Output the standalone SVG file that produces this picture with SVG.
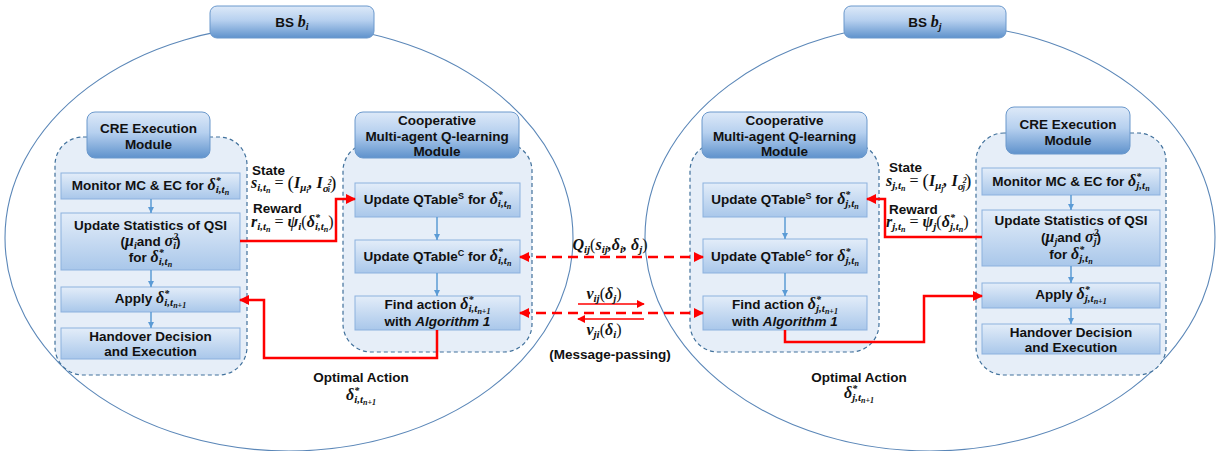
<svg xmlns="http://www.w3.org/2000/svg" width="1217" height="451" viewBox="0 0 1217 451">
<defs>
<linearGradient id="gBox" x1="0" y1="0" x2="0" y2="1"><stop offset="0" stop-color="#e3edf9"/><stop offset="1" stop-color="#a9c7ea"/></linearGradient>
<linearGradient id="gHead" x1="0" y1="0" x2="0" y2="1"><stop offset="0" stop-color="#dde9f8"/><stop offset="0.45" stop-color="#b6d0ef"/><stop offset="1" stop-color="#5f92cc"/></linearGradient>
<marker id="aBlue" viewBox="0 0 10 10" refX="10" refY="5" markerWidth="7" markerHeight="6" markerUnits="userSpaceOnUse" orient="auto"><path d="M0,0 L10,5 L0,10 z" fill="#5b9bd5"/></marker>
<marker id="aRed" viewBox="0 0 10 10" refX="9" refY="5" markerWidth="10" markerHeight="10" markerUnits="userSpaceOnUse" orient="auto-start-reverse"><path d="M0,0 L10,5 L0,10 z" fill="#ff0000"/></marker>
<marker id="aRedS" viewBox="0 0 10 10" refX="9" refY="5" markerWidth="8" markerHeight="8" markerUnits="userSpaceOnUse" orient="auto"><path d="M0,0 L10,5 L0,10 z" fill="#ff0000"/></marker>
</defs>
<style>
.ell{fill:none;stroke:#5b87b8;stroke-width:1.1}
.cont{fill:#e6eef8;stroke:#41719c;stroke-width:1.2;stroke-dasharray:4 3}
.head{fill:url(#gHead);stroke:#6a98cc;stroke-width:1}
.box{fill:url(#gBox);stroke:#8cb1de;stroke-width:1}
.t{font-family:"Liberation Sans",Arial,sans-serif;font-weight:bold;font-size:13.5px;fill:#111;text-anchor:middle}
.m{font-family:"Liberation Serif","Times New Roman",serif;font-style:italic;font-weight:bold;font-size:16px;fill:#111}
.n{font-family:"Liberation Serif","Times New Roman",serif;font-style:normal;font-weight:normal}
.bl{fill:none;stroke:#5b9bd5;stroke-width:1.5;marker-end:url(#aBlue)}
.rd{fill:none;stroke:#ff0000;stroke-width:2.5;marker-end:url(#aRed)}
.rdd{fill:none;stroke:#ff0000;stroke-width:2.5;stroke-dasharray:10 6;marker-start:url(#aRed);marker-end:url(#aRed)}
.rs{fill:none;stroke:#ff0000;stroke-width:1.3;marker-end:url(#aRedS)}
</style>
<rect width="1217" height="451" fill="#ffffff"/>

<g id="bs_i">
<ellipse class="ell" cx="289" cy="238" rx="284" ry="213"/>
<rect class="head" x="210" y="6" width="164" height="32" rx="7"/>
<text class="t" x="292" y="27">BS <tspan class="m">b</tspan><tspan class="m" style="font-size:10px" dy="3">i</tspan></text>
</g>
<g id="bs_j">
<ellipse class="ell" cx="930" cy="237" rx="285" ry="214"/>
<rect class="head" x="844" y="6" width="162" height="32" rx="7"/>
<text class="t" x="925" y="27">BS <tspan class="m">b</tspan><tspan class="m" style="font-size:10px" dy="3">j</tspan></text>
</g>

<g id="cre_i">
<rect class="cont" x="55" y="137" width="192" height="238" rx="28"/>
<rect class="head" x="87" y="112" width="123" height="46" rx="8"/>
<text class="t" x="148.5" y="133">CRE Execution</text>
<text class="t" x="148.5" y="149">Module</text>
</g>
<g id="monitor_i">
<rect class="box" x="61" y="173" width="179" height="26"/>
<text class="t" x="150.5" y="190">Monitor MC &amp; EC for <tspan class="m">δ</tspan><tspan class="m" style="font-size:10px" dy="-6">*</tspan><tspan class="m" style="font-size:11px" dx="-5" dy="9">i,t</tspan><tspan class="m" style="font-size:8px" dy="2">n</tspan></text>
</g>
<g id="stats_i">
<rect class="box" x="61" y="213" width="179" height="57"/>
<text class="t" x="150.5" y="230">Update Statistics of QSI</text>
<text class="t" x="150.5" y="246">(<tspan class="m">μ</tspan><tspan class="m" style="font-size:10px" dy="3">i</tspan><tspan dy="-3">and </tspan><tspan class="m">σ</tspan><tspan class="m" style="font-size:10px" dy="-6">2</tspan><tspan class="m" style="font-size:10px" dx="-5" dy="9">i</tspan><tspan dy="-3">)</tspan></text>
<text class="t" x="150.5" y="262">for <tspan class="m">δ</tspan><tspan class="m" style="font-size:10px" dy="-6">*</tspan><tspan class="m" style="font-size:11px" dx="-5" dy="9">i,t</tspan><tspan class="m" style="font-size:8px" dy="2">n</tspan></text>
</g>
<g id="apply_i">
<rect class="box" x="61" y="287" width="179" height="25"/>
<text class="t" x="150.5" y="303">Apply <tspan class="m">δ</tspan><tspan class="m" style="font-size:10px" dy="-6">*</tspan><tspan class="m" style="font-size:11px" dx="-5" dy="9">i,t</tspan><tspan class="m" style="font-size:8px" dy="2">n+1</tspan></text>
</g>
<g id="handover_i">
<rect class="box" x="61" y="328" width="179" height="31"/>
<text class="t" x="150.5" y="341">Handover Decision</text>
<text class="t" x="150.5" y="356">and Execution</text>
</g>

<g id="coop_i">
<rect class="cont" x="343" y="143" width="189" height="209" rx="28"/>
<rect class="head" x="355" y="112" width="164" height="46" rx="8"/>
<text class="t" x="437" y="125">Cooperative</text>
<text class="t" x="437" y="141">Multi-agent Q-learning</text>
<text class="t" x="437" y="156">Module</text>
</g>
<g id="qs_i">
<rect class="box" x="355" y="183" width="165" height="34"/>
<text class="t" x="437.5" y="204">Update QTable<tspan style="font-size:9px" dy="-5">S</tspan><tspan dy="5"> for </tspan><tspan class="m">δ</tspan><tspan class="m" style="font-size:10px" dy="-6">*</tspan><tspan class="m" style="font-size:11px" dx="-5" dy="9">i,t</tspan><tspan class="m" style="font-size:8px" dy="2">n</tspan></text>
</g>
<g id="qc_i">
<rect class="box" x="355" y="240" width="165" height="33"/>
<text class="t" x="437.5" y="261">Update QTable<tspan style="font-size:9px" dy="-5">C</tspan><tspan dy="5"> for </tspan><tspan class="m">δ</tspan><tspan class="m" style="font-size:10px" dy="-6">*</tspan><tspan class="m" style="font-size:11px" dx="-5" dy="9">i,t</tspan><tspan class="m" style="font-size:8px" dy="2">n</tspan></text>
</g>
<g id="find_i">
<rect class="box" x="355" y="296" width="165" height="34"/>
<text class="t" x="437.5" y="309">Find action <tspan class="m">δ</tspan><tspan class="m" style="font-size:10px" dy="-6">*</tspan><tspan class="m" style="font-size:11px" dx="-5" dy="9">i,t</tspan><tspan class="m" style="font-size:8px" dy="2">n+1</tspan></text>
<text class="t" x="437.5" y="326">with <tspan font-style="italic">Algorithm 1</tspan></text>
</g>

<g id="coop_j">
<rect class="cont" x="690" y="143" width="189" height="209" rx="28"/>
<rect class="head" x="702" y="112" width="165" height="46" rx="8"/>
<text class="t" x="784.5" y="125">Cooperative</text>
<text class="t" x="784.5" y="141">Multi-agent Q-learning</text>
<text class="t" x="784.5" y="156">Module</text>
</g>
<g id="qs_j">
<rect class="box" x="703" y="183" width="164" height="34"/>
<text class="t" x="785" y="204">Update QTable<tspan style="font-size:9px" dy="-5">S</tspan><tspan dy="5"> for </tspan><tspan class="m">δ</tspan><tspan class="m" style="font-size:10px" dy="-6">*</tspan><tspan class="m" style="font-size:11px" dx="-5" dy="9">j,t</tspan><tspan class="m" style="font-size:8px" dy="2">n</tspan></text>
</g>
<g id="qc_j">
<rect class="box" x="703" y="239" width="164" height="34"/>
<text class="t" x="785" y="261">Update QTable<tspan style="font-size:9px" dy="-5">C</tspan><tspan dy="5"> for </tspan><tspan class="m">δ</tspan><tspan class="m" style="font-size:10px" dy="-6">*</tspan><tspan class="m" style="font-size:11px" dx="-5" dy="9">j,t</tspan><tspan class="m" style="font-size:8px" dy="2">n</tspan></text>
</g>
<g id="find_j">
<rect class="box" x="703" y="296" width="164" height="34"/>
<text class="t" x="785" y="309">Find action <tspan class="m">δ</tspan><tspan class="m" style="font-size:10px" dy="-6">*</tspan><tspan class="m" style="font-size:11px" dx="-5" dy="9">j,t</tspan><tspan class="m" style="font-size:8px" dy="2">n+1</tspan></text>
<text class="t" x="785" y="326">with <tspan font-style="italic">Algorithm 1</tspan></text>
</g>

<g id="cre_j">
<rect class="cont" x="976" y="133" width="190" height="242" rx="28"/>
<rect class="head" x="1006" y="107" width="124" height="47" rx="8"/>
<text class="t" x="1068" y="129">CRE Execution</text>
<text class="t" x="1068" y="145">Module</text>
</g>
<g id="monitor_j">
<rect class="box" x="982" y="168" width="178" height="27"/>
<text class="t" x="1071" y="186">Monitor MC &amp; EC for <tspan class="m">δ</tspan><tspan class="m" style="font-size:10px" dy="-6">*</tspan><tspan class="m" style="font-size:11px" dx="-5" dy="9">j,t</tspan><tspan class="m" style="font-size:8px" dy="2">n</tspan></text>
</g>
<g id="stats_j">
<rect class="box" x="982" y="210" width="178" height="56"/>
<text class="t" x="1071" y="225">Update Statistics of QSI</text>
<text class="t" x="1071" y="242">(<tspan class="m">μ</tspan><tspan class="m" style="font-size:10px" dy="3">j</tspan><tspan dy="-3">and </tspan><tspan class="m">σ</tspan><tspan class="m" style="font-size:10px" dy="-6">2</tspan><tspan class="m" style="font-size:10px" dx="-5" dy="9">j</tspan><tspan dy="-3">)</tspan></text>
<text class="t" x="1071" y="259">for <tspan class="m">δ</tspan><tspan class="m" style="font-size:10px" dy="-6">*</tspan><tspan class="m" style="font-size:11px" dx="-5" dy="9">j,t</tspan><tspan class="m" style="font-size:8px" dy="2">n</tspan></text>
</g>
<g id="apply_j">
<rect class="box" x="982" y="283" width="178" height="25"/>
<text class="t" x="1071" y="299">Apply <tspan class="m">δ</tspan><tspan class="m" style="font-size:10px" dy="-6">*</tspan><tspan class="m" style="font-size:11px" dx="-5" dy="9">j,t</tspan><tspan class="m" style="font-size:8px" dy="2">n+1</tspan></text>
</g>
<g id="handover_j">
<rect class="box" x="982" y="324" width="178" height="30"/>
<text class="t" x="1071" y="337">Handover Decision</text>
<text class="t" x="1071" y="352">and Execution</text>
</g>

<g id="connectors">
<path class="bl" d="M151,199 V213"/>
<path class="bl" d="M151,270 V287"/>
<path class="bl" d="M151,312 V328"/>
<path class="bl" d="M437,217 V240"/>
<path class="bl" d="M437,273 V296"/>
<path class="bl" d="M785,217 V239"/>
<path class="bl" d="M785,273 V296"/>
<path class="bl" d="M1071,195 V210"/>
<path class="bl" d="M1071,266 V283"/>
<path class="bl" d="M1071,308 V324"/>
<path class="rd" d="M240,241 H336 V199 H355"/>
<path class="rd" d="M437,330 V358 H264 V300 H240"/>
<path class="rd" d="M982,237 H885 V199 H867"/>
<path class="rd" d="M785,330 V342 H924 V296 H982"/>
<path class="rdd" d="M520,257 H703"/>
<path class="rdd" d="M520,313 H703"/>
<path class="rs" d="M578,304 H644"/>
<path class="rs" d="M644,319 H578"/>
</g>

<g id="labels">
<text class="t" x="252" y="175" style="text-anchor:start">State</text>
<text class="m" x="251" y="188"><tspan>s</tspan><tspan style="font-size:11px" dy="3">i,t</tspan><tspan style="font-size:8px" dy="2">n</tspan><tspan class="n" dy="-5"> = </tspan><tspan class="n" style="font-size:19px" dy="1">(</tspan><tspan dy="-1">I</tspan><tspan style="font-size:11px" dy="3">μ</tspan><tspan style="font-size:8px" dy="2">i</tspan><tspan dy="-5">, I</tspan><tspan style="font-size:11px" dy="4">σ</tspan><tspan style="font-size:8px" dx="-1" dy="-7">2</tspan><tspan style="font-size:8px" dx="-4" dy="7">i</tspan><tspan class="n" style="font-size:19px" dy="-3">)</tspan></text>
<text class="t" x="253" y="213" style="text-anchor:start">Reward</text>
<text class="m" x="251" y="227"><tspan>r</tspan><tspan style="font-size:11px" dy="3">i,t</tspan><tspan style="font-size:8px" dy="2">n</tspan><tspan class="n" dy="-5"> = </tspan><tspan>ψ</tspan><tspan style="font-size:11px" dy="3">i</tspan><tspan class="n" dy="-3">(</tspan><tspan>δ</tspan><tspan style="font-size:10px" dy="-6">*</tspan><tspan style="font-size:11px" dx="-5" dy="9">i,t</tspan><tspan style="font-size:8px" dy="2">n</tspan><tspan class="n" dy="-5">)</tspan></text>

<text class="t" x="889" y="172" style="text-anchor:start">State</text>
<text class="m" x="886" y="186"><tspan>s</tspan><tspan style="font-size:11px" dy="3">j,t</tspan><tspan style="font-size:8px" dy="2">n</tspan><tspan class="n" dy="-5"> = </tspan><tspan class="n" style="font-size:19px" dy="1">(</tspan><tspan dy="-1">I</tspan><tspan style="font-size:11px" dy="3">μ</tspan><tspan style="font-size:8px" dy="2">j</tspan><tspan dy="-5">, I</tspan><tspan style="font-size:11px" dy="4">σ</tspan><tspan style="font-size:8px" dx="-1" dy="-7">2</tspan><tspan style="font-size:8px" dx="-4" dy="7">j</tspan><tspan class="n" style="font-size:19px" dy="-3">)</tspan></text>
<text class="t" x="889" y="214" style="text-anchor:start">Reward</text>
<text class="m" x="886" y="227"><tspan>r</tspan><tspan style="font-size:11px" dy="3">j,t</tspan><tspan style="font-size:8px" dy="2">n</tspan><tspan class="n" dy="-5"> = </tspan><tspan>ψ</tspan><tspan style="font-size:11px" dy="3">j</tspan><tspan class="n" dy="-3">(</tspan><tspan>δ</tspan><tspan style="font-size:10px" dy="-6">*</tspan><tspan style="font-size:11px" dx="-5" dy="9">j,t</tspan><tspan style="font-size:8px" dy="2">n</tspan><tspan class="n" dy="-5">)</tspan></text>

<text class="m" x="610" y="250" text-anchor="middle"><tspan>Q</tspan><tspan style="font-size:11px" dy="3">ij</tspan><tspan class="n" dy="-3">(</tspan><tspan>s</tspan><tspan style="font-size:11px" dy="3">ij</tspan><tspan dy="-3">,δ</tspan><tspan style="font-size:11px" dy="3">i</tspan><tspan dy="-3">, δ</tspan><tspan style="font-size:11px" dy="3">j</tspan><tspan class="n" dy="-3">)</tspan></text>
<text class="m" x="604" y="299" text-anchor="middle"><tspan>ν</tspan><tspan style="font-size:11px" dy="3">ij</tspan><tspan class="n" dy="-3">(</tspan><tspan>δ</tspan><tspan style="font-size:11px" dy="3">j</tspan><tspan class="n" dy="-3">)</tspan></text>
<text class="m" x="604" y="335" text-anchor="middle"><tspan>ν</tspan><tspan style="font-size:11px" dy="3">ji</tspan><tspan class="n" dy="-3">(</tspan><tspan>δ</tspan><tspan style="font-size:11px" dy="3">i</tspan><tspan class="n" dy="-3">)</tspan></text>
<text class="t" x="610" y="359">(Message-passing)</text>

<text class="t" x="361" y="382">Optimal Action</text>
<text class="m" x="361" y="400" text-anchor="middle"><tspan>δ</tspan><tspan style="font-size:10px" dy="-6">*</tspan><tspan style="font-size:11px" dx="-5" dy="9">i,t</tspan><tspan style="font-size:8px" dy="2">n+1</tspan></text>
<text class="t" x="859" y="382">Optimal Action</text>
<text class="m" x="859" y="398" text-anchor="middle"><tspan>δ</tspan><tspan style="font-size:10px" dy="-6">*</tspan><tspan style="font-size:11px" dx="-5" dy="9">j,t</tspan><tspan style="font-size:8px" dy="2">n+1</tspan></text>
</g>
</svg>
